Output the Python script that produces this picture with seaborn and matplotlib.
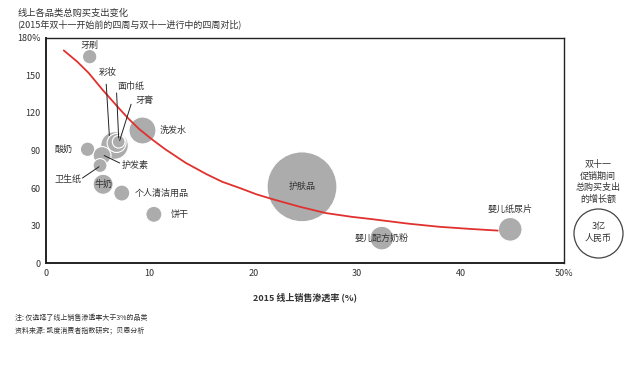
import numpy as np
import pandas as pd
import seaborn as sns
import matplotlib.pyplot as plt

# bubbles: online penetration 2015 (%), spend growth (%), spend increase (亿元)
categories = ["护肤品", "洗发水", "彩妆", "面巾纸", "牙膏", "牙刷", "酸奶", "护发素",
              "卫生纸", "牛奶", "个人清洁用品", "饼干", "婴儿配方奶粉", "婴儿纸尿片"]
penetration = [24.7, 9.3, 6.6, 6.8, 7.0, 4.2, 4.0, 5.4, 5.2, 5.5, 7.3, 10.4, 32.4, 44.8]
growth = [61, 106, 94, 96, 97, 165, 91, 86, 78, 63, 56, 39, 20, 27]
spend = [6.1, 0.91, 0.95, 0.45, 0.2, 0.26, 0.26, 0.4, 0.24, 0.5, 0.32, 0.32, 0.7, 0.7]

# trend line
trend_x = [1.7, 3.0, 4.1, 5.5, 7.0, 8.0, 9.0, 10.2, 11.5, 13.5, 15.5, 17.0, 18.7,
           20.3, 21.9, 24.5, 27.0, 29.5, 31.6, 35.0, 38.0, 41.0, 43.6]
trend_y = [170, 161, 152, 138, 124, 115, 107, 99, 91, 80, 71, 65, 60,
           55, 51, 45, 40, 37, 35, 31.5, 29, 27.3, 26]

x_ticks = [0, 10, 20, 30, 40, 50]
x_ticklabels = ["0", "10", "20", "30", "40", "50%"]
y_ticks = [0, 30, 60, 90, 120, 150, 180]
y_ticklabels = ["0", "30", "60", "90", "120", "150", "180%"]

legend_spend = 3.0

sns.set_style("white")
plt.rcParams["font.family"] = ["Noto Sans CJK SC", "DejaVu Sans"]

GREY = "#acacac"
TXT = "#333333"
AREA = 415  # pt^2 per 亿元

df = pd.DataFrame({"cat": categories, "x": penetration, "y": growth, "spend": spend})

fig = plt.figure(figsize=(6.41, 3.68), dpi=100)
ax = fig.add_axes([0.072, 0.285, 0.808, 0.612])

sns.scatterplot(data=df, x="x", y="y", size="spend",
                sizes=(AREA * min(spend), AREA * max(spend)),
                size_norm=(min(spend), max(spend)),
                color=GREY, edgecolor="white", linewidth=0.8, alpha=1,
                legend=False, ax=ax, zorder=2)

sns.lineplot(x=trend_x, y=trend_y, color="#e0312f", linewidth=1.3,
             ax=ax, zorder=3, sort=True)

ax.set_xlim(0, 50)
ax.set_ylim(0, 180)
ax.set_xticks(x_ticks)
ax.set_xticklabels(x_ticklabels)
ax.set_yticks(y_ticks)
ax.set_yticklabels(y_ticklabels)
ax.tick_params(axis="both", length=0, labelsize=6.5, colors=TXT, pad=4)
ax.set_xlabel("2015 线上销售渗透率 (%)", fontsize=6.5, fontweight="bold",
              color=TXT, labelpad=11)
ax.set_ylabel("")
for side in ["left", "bottom"]:
    ax.spines[side].set_linewidth(1.4)
for side in ["top", "right"]:
    ax.spines[side].set_linewidth(1.0)
for sp in ax.spines.values():
    sp.set_color("#222222")

fs = 6.5
# labels placed next to bubbles
ax.text(4.2, 174, "牙刷", fontsize=fs, color=TXT, ha="center", va="center")
ax.text(2.5, 91, "酸奶", fontsize=fs, color=TXT, ha="right", va="center")
ax.text(11.0, 106, "洗发水", fontsize=fs, color=TXT, ha="left", va="center")
ax.text(5.5, 63, "牛奶", fontsize=fs, color=TXT, ha="center", va="center")
ax.text(8.5, 56, "个人清洁用品", fontsize=fs, color=TXT, ha="left", va="center")
ax.text(12.0, 39, "饼干", fontsize=fs, color=TXT, ha="left", va="center")
ax.text(24.7, 61, "护肤品", fontsize=fs, color=TXT, ha="center", va="center")
ax.text(32.4, 20, "婴儿配方奶粉", fontsize=fs, color=TXT, ha="center", va="center")
ax.text(44.8, 43, "婴儿纸尿片", fontsize=fs, color=TXT, ha="center", va="center")

# labels with leader lines
ax.text(5.9, 152, "彩妆", fontsize=fs, color=TXT, ha="center", va="center")
ax.plot([5.8, 6.1], [143, 102], color="#222222", linewidth=0.7, zorder=4)
ax.text(8.2, 141, "面巾纸", fontsize=fs, color=TXT, ha="center", va="center")
ax.plot([6.8, 7.0], [136, 100], color="#222222", linewidth=0.7, zorder=4)
ax.text(9.5, 130, "牙膏", fontsize=fs, color=TXT, ha="center", va="center")
ax.plot([8.2, 7.1], [127, 98], color="#222222", linewidth=0.7, zorder=4)
ax.text(7.3, 78, "护发素", fontsize=fs, color=TXT, ha="left", va="center")
ax.plot([7.1, 5.6], [80, 86], color="#222222", linewidth=0.7, zorder=4)
ax.text(3.4, 67, "卫生纸", fontsize=fs, color=TXT, ha="right", va="center")
ax.plot([3.5, 5.1], [68, 77], color="#222222", linewidth=0.7, zorder=4)

# size legend on the right
ax.text(53.3, 65, "双十一\n促销期间\n总购买支出\n的增长额", fontsize=fs, color=TXT,
        ha="center", va="center", linespacing=1.35, clip_on=False)
ax.scatter([53.3], [24.2], s=AREA * legend_spend, facecolor="white",
           edgecolor="#444444", linewidth=0.9, clip_on=False, zorder=2)
ax.text(53.3, 24.2, "3亿\n人民币", fontsize=fs, color=TXT, ha="center",
        va="center", linespacing=1.4, clip_on=False)

fig.text(0.027, 0.965, "线上各品类总购买支出变化", fontsize=6.7, color=TXT,
         ha="left", va="center")
fig.text(0.027, 0.935, "(2015年双十一开始前的四周与双十一进行中的四周对比)", fontsize=6.5,
         color=TXT, ha="left", va="center")
fig.text(0.023, 0.136, "注: 仅选择了线上销售渗透率大于3%的品类", fontsize=5,
         color=TXT, ha="left", va="center")
fig.text(0.023, 0.103, "资料来源: 凯度消费者指数研究；贝恩分析", fontsize=5,
         color=TXT, ha="left", va="center")

fig.savefig("out.png", dpi=100)
